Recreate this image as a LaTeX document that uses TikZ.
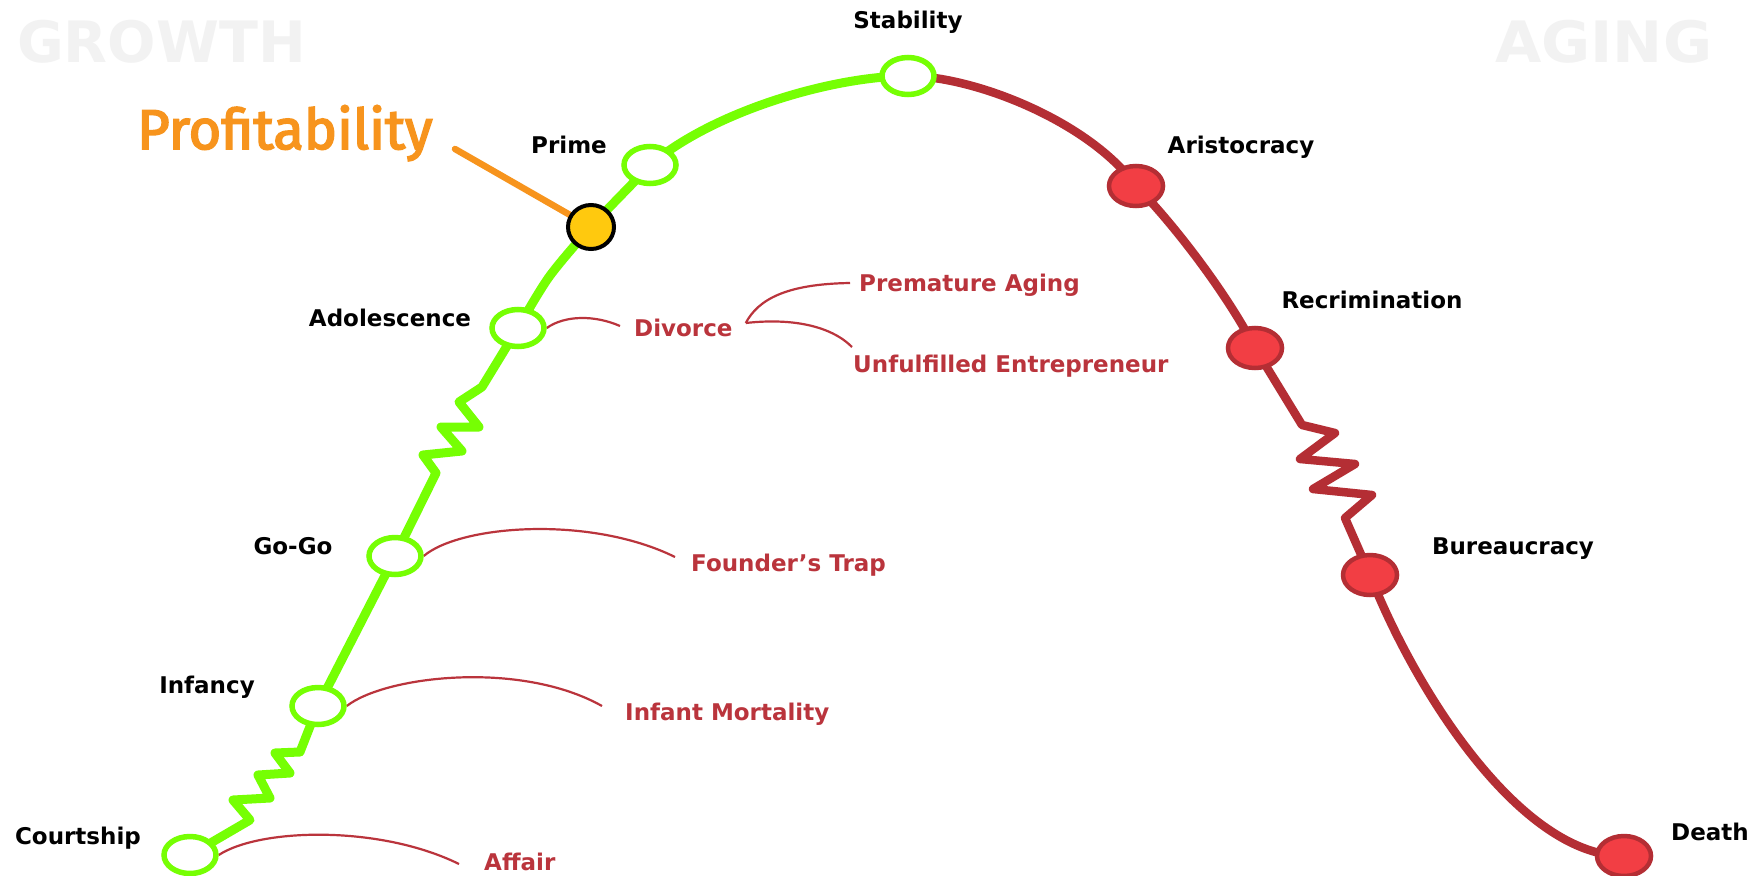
\documentclass[tikz,border=0pt]{standalone}
\usepackage{fontspec}
\setmainfont{DejaVu Sans}
\newfontfamily\proffont{Fira Sans}[FakeBold=3]
\usetikzlibrary{shapes.geometric}
\pgfdeclarelayer{bg}
\pgfsetlayers{bg,main}
\definecolor{lime}{RGB}{118,255,3}
\definecolor{dred}{RGB}{180,46,52}
\definecolor{fred}{RGB}{242,62,68}
\definecolor{rtext}{RGB}{186,52,60}
\definecolor{orng}{RGB}{247,148,29}
\definecolor{yfill}{RGB}{255,201,14}
\definecolor{ghost}{RGB}{242,242,242}
\tikzset{
 gnode/.style={ellipse, draw=lime, line width=5.5pt, fill=white, minimum width=52pt, minimum height=37pt, inner sep=0pt},
 rnode/.style={ellipse, draw=dred, line width=4.5pt, fill=fred, minimum width=54pt, minimum height=40pt, inner sep=0pt},
 ynode/.style={ellipse, draw=black, line width=4pt, fill=yfill, minimum width=46pt, minimum height=44pt, inner sep=0pt},
 lbl/.style={font=\fontsize{23}{23}\selectfont\bfseries, text=black, inner sep=0pt, text height=16pt, text depth=0pt},
 rlbl/.style={lbl, text=rtext, anchor=west},
 gline/.style={draw=lime, line width=9pt, line join=round, line cap=round},
 rline/.style={draw=dred, line width=8.5pt, line join=round, line cap=round},
 thinline/.style={draw=rtext, line width=2.2pt},
 ghosttxt/.style={font=\fontsize{57}{57}\selectfont\bfseries, text=ghost, inner sep=0pt, anchor=base west},
}
\begin{document}
\begin{tikzpicture}[x=1pt,y=-1pt]
\useasboundingbox (0,0) rectangle (1752,875);
% background words
\node[ghosttxt] (growth) at (17,63) {GROWTH};
\node[ghosttxt] (aging) at (1495,63) {\scalebox{1.05}[1]{AGING}};
\node[font=\proffont\fontsize{56}{56}\selectfont, text=orng, inner sep=0pt, anchor=base west] (prof) at (137,149) {Profitability};
% stage circles
\node[gnode] (court) at (190,855) {};
\node[gnode] (inf) at (318,706) {};
\node[gnode] (gogo) at (395,556) {};
\node[gnode] (adol) at (518,328) {};
\node[gnode] (prime) at (650,165) {};
\node[gnode] (stab) at (908,76) {};
\node[ynode] (yel) at (591,227) {};
\node[rnode] (arist) at (1136,186) {};
\node[rnode] (rec) at (1255,348) {};
\node[rnode] (bur) at (1370,575) {};
\node[rnode] (death) at (1624,856) {};
% stage labels
\node[lbl] (lstab) at (908,21) {Stability};
\node[lbl] (lprime) at (569,145) {Prime};
\node[lbl] (larist) at (1241,145) {Aristocracy};
\node[lbl] (ladol) at (390,318) {Adolescence};
\node[lbl] (lrec) at (1372,300) {Recrimination};
\node[lbl] (lgogo) at (293,546) {Go-Go};
\node[lbl] (lbur) at (1513,546) {Bureaucracy};
\node[lbl] (linf) at (207,685) {Infancy};
\node[lbl] (lcourt) at (78,836) {Courtship};
\node[lbl] (ldeath) at (1710,832) {Death};
% trap labels
\node[rlbl] (prem) at (859,283) {Premature Aging};
\node[rlbl] (div) at (634,328) {Divorce};
\node[rlbl] (unf) at (853,364) {Unfulfilled Entrepreneur};
\node[rlbl] (found) at (691,563) {Founder’s Trap};
\node[rlbl] (mort) at (625,712) {Infant Mortality};
\node[rlbl] (affair) at (484,862) {Affair};
\coordinate (dv) at ([xshift=13pt,yshift=5pt]div.east);
\coordinate (pl) at (455,149);
\begin{pgfonlayer}{bg}
\fill[white] (0,0) rectangle (1752,875);
\draw[gline] (court.center) -- (250,820) -- (233,800) -- (270,798) -- (258,775) -- (290,773) -- (275,753) -- (300,752) -- (inf.center) -- (gogo.center) -- (436,473) -- (423,455) -- (462,451) -- (441,427) -- (479,427) -- (459,402) -- (482,387) -- (adol.center);
\draw[gline] plot[smooth] coordinates {(adol.center) (549,277) (yel.center) (634,182) (prime.center)};
\draw[gline] (prime.center) .. controls (715,110) and (835,76) .. (stab.center);
\draw[rline] (stab.center) .. controls (975,76) and (1090,122) .. (arist.center)
  .. controls (1170,220) and (1225,290) .. (rec.center);
\draw[rline] (rec.center) -- (1302,425) -- (1335,433) -- (1300,459) -- (1355,464) -- (1313,489) -- (1372,495) -- (1345,518) -- (bur.center);
\draw[rline] (bur.center) .. controls (1415,690) and (1520,856) .. (death.center);
\draw[orng, line width=6.5pt, line cap=round] (pl) -- (yel.center);
\draw[thinline] (court.east) .. controls (260,828) and (380,825) .. ([xshift=-25pt,yshift=-2pt]affair.west);
\draw[thinline] (inf.east) .. controls (385,676) and (520,660) .. ([xshift=-23pt,yshift=6pt]mort.west);
\draw[thinline] (gogo.east) .. controls (460,525) and (590,515) .. ([xshift=-16pt,yshift=6pt]found.west);
\draw[thinline] (adol.east) .. controls (565,315) and (595,315) .. ([xshift=-14pt,yshift=2pt]div.west);
\draw[thinline] (dv) .. controls (758,300) and (785,284) .. ([xshift=-9pt]prem.west);
\draw[thinline] (dv) .. controls (790,318) and (830,325) .. ([xshift=-1pt,yshift=17pt]unf.west);
\end{pgfonlayer}
\end{tikzpicture}
\end{document}
